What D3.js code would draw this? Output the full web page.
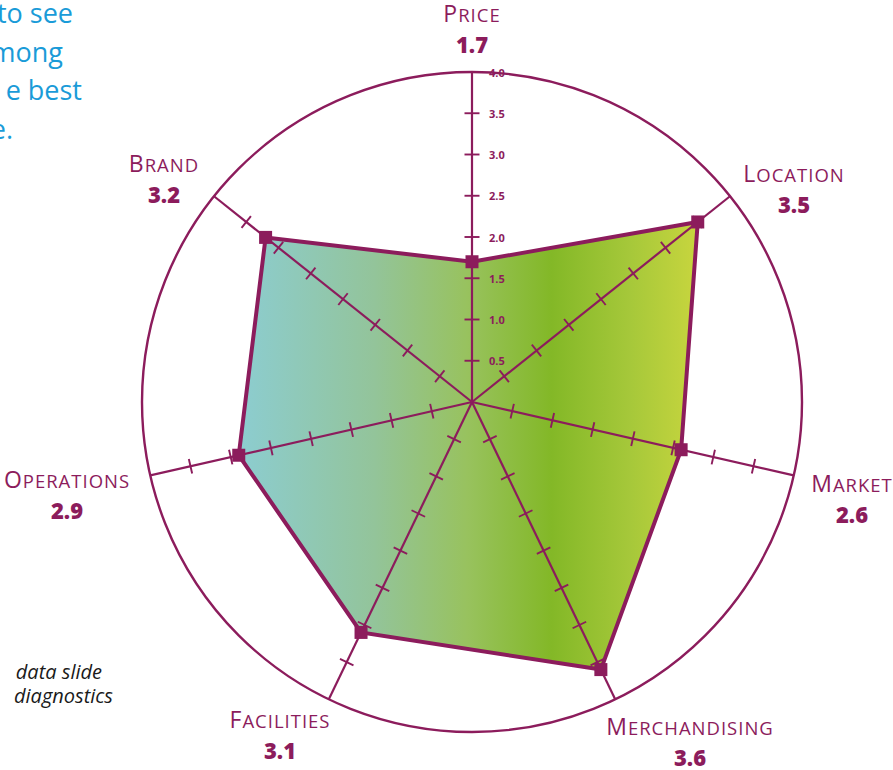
<!DOCTYPE html>
<html>
<head>
<meta charset="utf-8">
<script src="https://cdn.jsdelivr.net/npm/d3@7/dist/d3.min.js"></script>
<style>
  html, body { margin: 0; padding: 0; background: #fff; }
  svg { display: block; }
</style>
</head>
<body>
<svg id="chart" width="893" height="770"></svg>
<script>
// ---- data ----
const categories = ["Price", "Location", "Market", "Merchandising", "Facilities", "Operations", "Brand"];
const values = [1.7, 3.5, 2.6, 3.6, 3.1, 2.9, 3.2];
const valueLabels = ["1.7", "3.5", "2.6", "3.6", "3.1", "2.9", "3.2"];
const tickValues = [0.5, 1.0, 1.5, 2.0, 2.5, 3.0, 3.5, 4.0];
const tickLabels = ["0.5", "1.0", "1.5", "2.0", "2.5", "3.0", "3.5", "4.0"];
const introLines = ["to see", "mong", "e best", "e."];
const noteLines = ["data slide", "diagnostics"];

// ---- layout ----
const W = 893, H = 770;
const cx = 472, cy = 402, R = 330;
const purple = "#8c1c5c";
const labelPos = [[472, 22], [794, 182], [852, 492], [690, 735], [280, 728], [67, 488], [164, 172]];
const valueGap = 31;

const svg = d3.select("#chart");
const r = d3.scaleLinear().domain([0, 4]).range([0, R]);
const angle = d3.scaleLinear().domain([0, categories.length]).range([0, 2 * Math.PI]);
const pt = (i, v) => {
  const a = angle(i);
  return [cx + Math.sin(a) * r(v), cy - Math.cos(a) * r(v)];
};

// gradient
const defs = svg.append("defs");
const grad = defs.append("linearGradient").attr("id", "fillGrad")
  .attr("gradientUnits", "userSpaceOnUse")
  .attr("x1", 235).attr("y1", 0).attr("x2", 700).attr("y2", 0);
[[0, "#8ccdd2"], [0.3, "#93c49a"], [0.5, "#98c25e"], [0.68, "#83b827"], [0.85, "#a6c83a"], [1, "#c9d63e"]]
  .forEach(([o, c]) => grad.append("stop").attr("offset", o).attr("stop-color", c));

// intro text (blue, clipped at left as in the source slide)
svg.append("g").selectAll("text").data(introLines).join("text")
  .attr("x", (d, i) => [73, 63, 82, 13][i])
  .attr("y", (d, i) => 23 + i * 38.5)
  .attr("text-anchor", "end")
  .attr("font-family", "'Open Sans', sans-serif")
  .attr("font-size", 27)
  .attr("fill", "#1a9bd8")
  .text(d => d);

// note text
svg.append("g").selectAll("text").data(noteLines).join("text")
  .attr("x", (d, i) => [102, 113][i])
  .attr("y", (d, i) => 679 + i * 24)
  .attr("text-anchor", "end")
  .attr("font-family", "'Open Sans', sans-serif")
  .attr("font-style", "italic")
  .attr("font-size", 20)
  .attr("fill", "#1a1a1a")
  .text(d => d);

// outer circle
svg.append("circle").attr("cx", cx).attr("cy", cy).attr("r", r(4))
  .attr("fill", "none").attr("stroke", purple).attr("stroke-width", 2.4);

// polygon
const line = d3.line().curve(d3.curveLinearClosed);
const polyPts = values.map((v, i) => pt(i, v));
svg.append("path").attr("d", line(polyPts))
  .attr("fill", "url(#fillGrad)").attr("stroke", "none");

// axes
const axes = svg.append("g");
categories.forEach((c, i) => {
  const [x2, y2] = pt(i, 4);
  axes.append("line").attr("x1", cx).attr("y1", cy).attr("x2", x2).attr("y2", y2)
    .attr("stroke", purple).attr("stroke-width", 2.2);
  const a = angle(i);
  const px = Math.cos(a), py = Math.sin(a);
  tickValues.filter(t => t < 4).forEach(t => {
    const [tx, ty] = pt(i, t);
    axes.append("line")
      .attr("x1", tx - px * 7.5).attr("y1", ty - py * 7.5)
      .attr("x2", tx + px * 7.5).attr("y2", ty + py * 7.5)
      .attr("stroke", purple).attr("stroke-width", 1.9);
  });
});

// price tick labels
svg.append("g").selectAll("text").data(tickValues).join("text")
  .attr("x", cx + 17)
  .attr("y", d => pt(0, d)[1] + 4.5)
  .attr("font-family", "'Open Sans', sans-serif")
  .attr("font-weight", "bold")
  .attr("font-size", 11)
  .attr("fill", purple)
  .text((d, i) => tickLabels[i]);

// polygon outline
svg.append("path").attr("d", line(polyPts))
  .attr("fill", "none").attr("stroke", purple).attr("stroke-width", 4)
  .attr("stroke-linejoin", "miter");

// markers
svg.append("g").selectAll("rect").data(polyPts).join("rect")
  .attr("x", d => d[0] - 6.5).attr("y", d => d[1] - 6.5)
  .attr("width", 13).attr("height", 13)
  .attr("fill", purple);

// category labels (small caps)
const lab = svg.append("g");
categories.forEach((c, i) => {
  const [lx, ly] = labelPos[i];
  const t = lab.append("text").attr("x", lx).attr("y", ly)
    .attr("text-anchor", "middle")
    .attr("font-family", "'Open Sans', sans-serif")
    .attr("letter-spacing", 1)
    .attr("fill", purple);
  t.append("tspan").attr("font-size", 23).text(c[0].toUpperCase());
  t.append("tspan").attr("font-size", 18.5).text(c.slice(1).toUpperCase());
  lab.append("text").attr("x", lx).attr("y", ly + valueGap)
    .attr("text-anchor", "middle")
    .attr("font-family", "'Open Sans', sans-serif")
    .attr("font-weight", 800)
    .attr("font-size", 22)
    .attr("fill", purple)
    .text(valueLabels[i]);
});
</script>
</body>
</html>
